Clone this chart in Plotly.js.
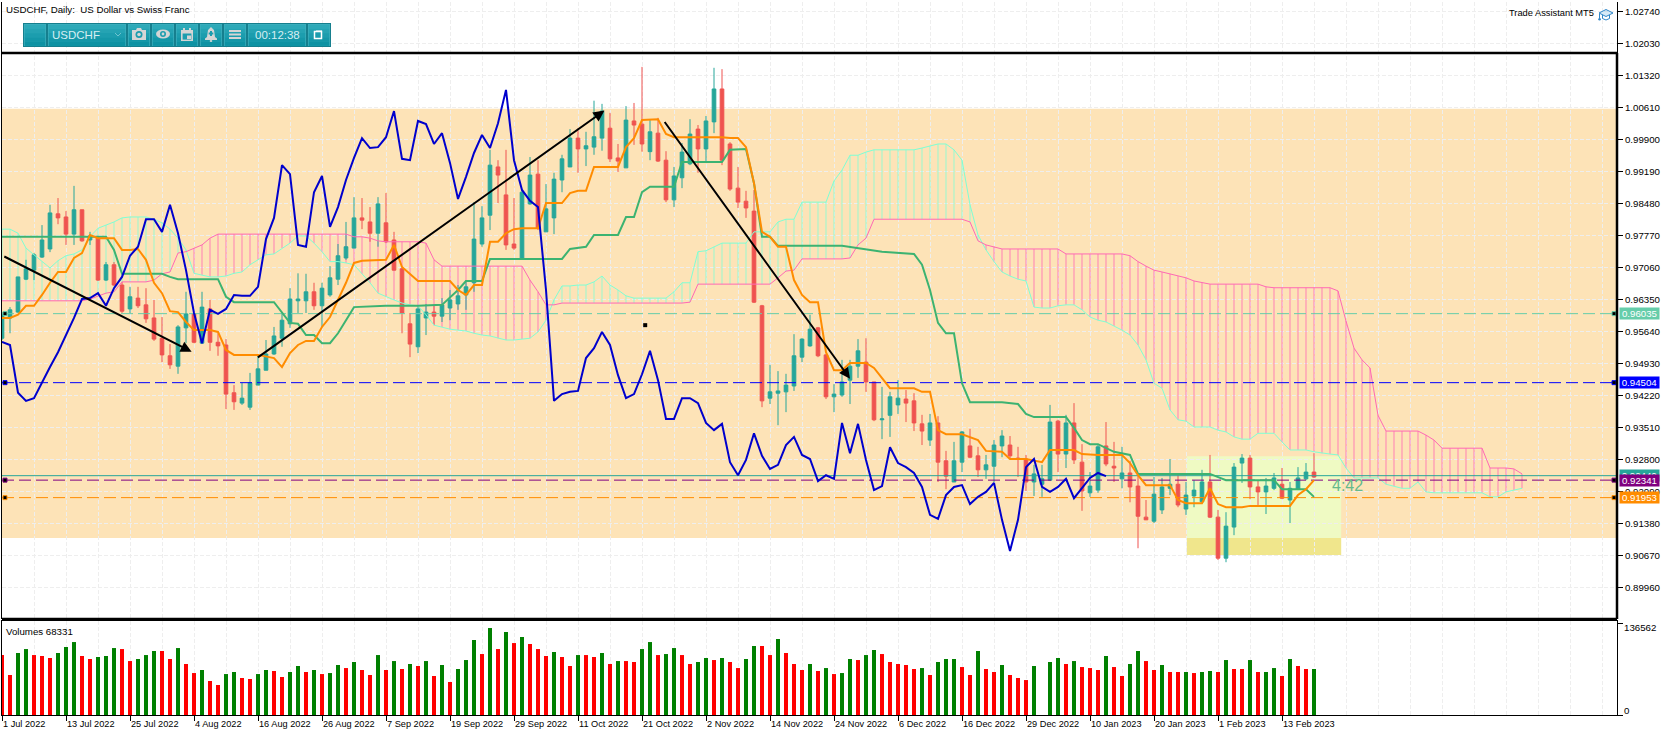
<!DOCTYPE html>
<html><head><meta charset="utf-8">
<script src="https://cdn.plot.ly/plotly-3.0.1.min.js"></script>
<style>html,body{margin:0;padding:0;background:#fff}#c{width:1670px;height:736px}</style>
</head><body><div id="c"></div>
<script>
const open=[.9549,.9594,.9607,.9680,.9700,.9729,.9747,.9825,.9818,.9780,
.9834,.9767,.9771,.9678,.9712,.9667,.9614,.9638,.9623,.9594,
.9549,.9510,.9487,.9572,.9603,.9538,.9614,.9540,.9534,.9428,
.9405,.9396,.9445,.9478,.9514,.9549,.9581,.9632,.9632,.9652,
.9621,.9645,.9680,.9727,.9749,.9816,.9807,.9782,.9805,.9767,
.9703,.9581,.9530,.9594,.9607,.9598,.9616,.9625,.9645,.9672,
.9758,.9822,.9929,.9867,.9758,.9725,.9847,.9913,.9785,.9816,
.9900,.9929,.9993,.9969,.9973,.9993,1.0015,.9949,.9927,1.0031,
1.0024,.9963,1.0004,.9944,.9856,.9905,.9936,1.0013,.9969,1.0029,
1.0102,.9980,.9882,.9853,.9831,.9621,.9416,.9427,.9430,.9443,
.9507,.9532,.9572,.9512,.9419,.9423,.9456,.9487,.9496,.9452,
.9368,.9378,.9401,.9414,.9410,.9359,.9323,.9361,.9277,.9230,
.9274,.9310,.9288,.9257,.9265,.9310,.9312,.9283,.9281,.9230,
.9225,.9234,.9365,.9292,.9361,.9274,.9206,.9212,.9310,.9265,
.9237,.9250,.9221,.9152,.9143,.9168,.9216,.9225,.9170,.9199,
.9186,.9230,.9152,.9061,.9130,.9272,.9283,.9219,.9208,.9216,
.9225,.9190,.9214,.9237,.9252];
const high=[.9605,.9618,.9685,.9723,.9738,.9800,.9845,.9860,.9831,.9887,
.9834,.9785,.9776,.9718,.9718,.9674,.9663,.9663,.9660,.9634,
.9596,.9536,.9578,.9652,.9605,.9652,.9634,.9560,.9547,.9445,
.9450,.9472,.9512,.9545,.9574,.9607,.9660,.9693,.9692,.9672,
.9672,.9709,.9758,.9807,.9862,.9860,.9840,.9862,.9871,.9785,
.9705,.9605,.9621,.9625,.9623,.9638,.9656,.9667,.9678,.9851,
.9842,.9967,.9944,.9967,.9860,.9878,.9951,.9944,.9891,.9916,
.9956,1.0013,1.0015,1.0007,1.0076,1.0069,1.0049,.9980,1.0064,1.0071,
1.0151,1.0033,1.0038,.9964,.9929,.9982,1.0035,1.0022,1.0042,1.0149,
1.0146,.9984,.9929,.9876,.9878,.9623,.9490,.9476,.9470,.9558,
.9549,.9601,.9574,.9514,.9447,.9501,.9501,.9547,.9549,.9452,
.9441,.9430,.9456,.9434,.9427,.9379,.9381,.9376,.9299,.9319,
.9343,.9348,.9308,.9290,.9323,.9345,.9332,.9308,.9290,.9268,
.9268,.9401,.9368,.9379,.9405,.9314,.9252,.9312,.9363,.9319,
.9308,.9277,.9250,.9190,.9241,.9239,.9281,.9245,.9230,.9234,
.9257,.9290,.9168,.9163,.9272,.9292,.9290,.9234,.9239,.9250,
.9261,.9230,.9263,.9272,.9294];
const low=[.9545,.9560,.9605,.9678,.9678,.9727,.9740,.9802,.9756,.9756,
.9763,.9756,.9676,.9676,.9665,.9605,.9605,.9616,.9583,.9543,
.9496,.9481,.9470,.9538,.9538,.9538,.9521,.9510,.9392,.9390,
.9401,.9390,.9445,.9478,.9512,.9530,.9572,.9605,.9605,.9612,
.9574,.9641,.9667,.9723,.9749,.9791,.9763,.9752,.9760,.9700,
.9560,.9507,.9516,.9556,.9578,.9585,.9589,.9612,.9612,.9652,
.9752,.9789,.9849,.9745,.9745,.9723,.9845,.9789,.9785,.9780,
.9873,.9929,.9916,.9931,.9956,.9965,.9940,.9918,.9927,.9978,
.9963,.9944,.9940,.9851,.9840,.9882,.9933,.9916,.9938,1.0004,
.9933,.9876,.9838,.9816,.9627,.9396,.9403,.9356,.9385,.9432,
.9496,.9530,.9507,.9414,.9385,.9419,.9403,.9461,.9430,.9365,
.9325,.9330,.9381,.9363,.9343,.9312,.9310,.9230,.9214,.9230,
.9252,.9283,.9241,.9237,.9230,.9285,.9283,.9241,.9210,.9199,
.9197,.9232,.9252,.9261,.9270,.9166,.9197,.9206,.9265,.9230,
.9216,.9185,.9083,.9146,.9139,.9159,.9201,.9174,.9157,.9174,
.9183,.9150,.9057,.9052,.9112,.9228,.9192,.9179,.9159,.9212,
.9192,.9139,.9212,.9234,.9239];
const close=[.9605,.9612,.9685,.9703,.9734,.9767,.9827,.9816,.9780,.9834,
.9765,.9776,.9678,.9712,.9667,.9609,.9641,.9621,.9592,.9547,
.9512,.9490,.9574,.9603,.9540,.9618,.9540,.9532,.9425,.9408,
.9416,.9450,.9481,.9514,.9554,.9589,.9636,.9636,.9652,.9621,
.9660,.9683,.9732,.9752,.9816,.9811,.9782,.9847,.9763,.9700,
.9605,.9536,.9614,.9607,.9598,.9623,.9634,.9643,.9663,.9769,
.9816,.9933,.9911,.9756,.9749,.9873,.9911,.9793,.9836,.9902,
.9947,.9993,.9969,.9976,.9996,1.0053,.9947,.9942,1.0033,1.0022,
.9980,1.0007,.9942,.9856,.9909,.9962,1.0002,.9969,1.0031,1.0102,
.9944,.9880,.9851,.9838,.9629,.9410,.9430,.9432,.9445,.9510,
.9547,.9569,.9510,.9419,.9425,.9452,.9487,.9521,.9452,.9368,
.9370,.9419,.9416,.9405,.9361,.9343,.9361,.9274,.9243,.9277,
.9341,.9285,.9257,.9268,.9312,.9332,.9288,.9281,.9230,.9248,
.9237,.9363,.9292,.9361,.9279,.9210,.9221,.9308,.9270,.9261,
.9250,.9219,.9154,.9146,.9203,.9219,.9225,.9179,.9201,.9212,
.9230,.9152,.9061,.9132,.9263,.9283,.9219,.9208,.9221,.9239,
.9194,.9216,.9239,.9252,.9241];
const volume=[89000,59400,92000,97900,89000,87600,84600,92000,100900,108300,87600,83100,86100,87600,99400,97900,80100,83100,89000,95000,95000,83100,99400,75700,62300,66800,50500,44500,60800,63800,54900,53400,60800,66800,65300,56400,63800,72700,63800,66800,60800,62300,74200,69700,78700,66800,59400,89000,66800,80100,68300,75700,72700,80100,57900,74200,49000,68300,81600,111300,90500,129100,97900,
123200,106800,115800,105400,97900,87600,93500,86100,72700,89000,89000,86100,92000,75700,80100,80100,78700,97900,108300,89000,90500,99400,89000,75700,78700,84600,81600,84600,78700,69700,83100,102400,102400,89000,112800,92000,75700,66800,75700,65300,69700,60800,62300,83100,81600,89000,96500,90500,78700,75700,74200,68300,69700,59400,78700,83100,83100,71200,59400,95000,68300,63800,
74200,59400,54900,51900,72700,0,78700,84600,75700,80100,71200,69700,66800,87600,71200,57900,75700,95000,80100,66800,74200,63800,63800,63800,62300,63800,65300,63800,81600,68300,68300,81600,63800,63800,69700,57900,83100,72700,68300,68331];
const volumeDir="rrggrrrgggrrgggrrgggrrgrrgrrggrrggrrggrgrggrgrrgrgrgrgrgrgggrgr"+"grgrrrgrrgrrgrgrrggrggrrggrgrrggrrgrrrgrgrggrggrrrrrgrgggrrgrr"+"grrrggggrgrrrgrrggrrgrrgrggrgrrgrggrgrrg";

const senkouA=[.9791,.9791,.9782,.9749,.9734,.9719,.9705,.9721,.9732,.9736,.9745,.9774,.9793,.9800,.9807,.9816,.9818,.9818,.9818,.9813,.9805,.9791,.9771,.9745,.9693,.9689,.9685,.9685,.9687,.9693,.9696,.9712,.9723,.9734,.9736,.9749,.9760,.9776,.9776,.9760,.9741,.9719,.9719,.9716,.9712,.9692,.9672,.9649,.9641,.9634,.9627,.9623,.9621,
.9601,.9578,.9574,.9569,.9567,.9565,.9560,.9556,.9554,.9549,.9545,.9545,.9547,.9549,.9563,.9589,.9634,.9665,.9665,.9667,.9667,.9674,.9687,.9667,.9656,.9643,.9638,.9638,.9638,.9638,.9638,.9652,.9672,.9672,.9741,.9743,.9752,.9760,.9760,.9760,.9760,.9785,.9785,.9785,.9807,.9813,.9813,.9851,.9851,.9851,.9851,.9898,.9922,.9955,.9955,.9962,.9967,.9967,.9967,.9967,.9967,.9967,.9971,.9976,.9980,.9980,.9967,.9944,.9845,.9778,.9745,.9719,.9696,.9687,.9680,.9676,.9618,.9616,.9616,.9621,.9623,.9623,.9612,.9596,.9589,.9585,.9576,.9567,.9556,.9534,.9501,.9449,.9438,.9390,.9368,.9365,.9352,.9352,.9352,.9345,.9341,.9330,.9325,.9325,.9338,.9338,.9338,.9319,.9301,.9301,.9301,.9297,.9294,.9292,.9290,.9261,.9239,.9239,.9239,.9239,.9225,.9221,.9216,.9216,.9230,.9208,.9206,.9206,.9206,.9206,.9206,.9206,.9206,.9197,.9197,.9208,.9212,.9216];
const senkouB=[.9632,.9632,.9632,.9632,.9632,.9632,.9632,.9632,.9632,.9632,.9632,.9636,.9643,.9649,.9652,.9674,.9674,.9674,.9674,.9678,.9692,.9696,.9738,.9741,.9749,.9756,.9771,
.9780,.9780,.9780,.9780,.9780,.9780,.9780,.9780,.9780,.9780,.9780,.9780,.9780,.9780,.9780,.9780,.9780,.9774,.9774,.9771,.9765,.9763,.9763,.9763,.9763,.9763,.9760,.9723,
.9709,.9709,.9709,.9709,.9709,.9709,.9709,.9709,.9709,.9709,.9709,.9678,.9652,.9623,.9623,
.9627,.9627,.9627,.9627,.9627,.9627,.9627,.9627,.9627,.9627,.9627,.9627,.9627,.9627,.9627,.9627,.9629,
.9669,.9669,.9669,.9669,.9669,.9669,.9669,.9669,.9669,.9669,.9683,.9698,.9700,.9725,.9725,.9725,.9725,.9725,.9725,.9727,.9756,.9771,
.9813,.9813,.9813,.9813,.9813,.9813,.9813,.9813,.9813,.9813,.9813,.9813,.9807,.9765,.9756,.9752,
.9747,.9747,.9747,.9747,.9747,.9747,.9747,.9747,.9736,.9736,.9736,.9736,.9736,.9736,.9736,.9736,.9732,.9719,.9709,.9700,.9696,.9692,.9687,.9683,.9676,.9672,
.9669,.9669,.9669,.9669,.9669,.9669,.9669,.9663,.9661,.9661,.9661,.9661,.9661,.9661,.9661,.9661,.9654,.9587,.9527,.9501,.9483,.9378,
.9343,.9343,.9343,.9343,.9343,.9334,.9323,.9305,.9305,.9305,.9305,.9305,.9305,.9261,.9261,.9261,.9259,.9248];

const tenkanBar=[0,1,2,3,4,5,6,7,8,9,10,11,12,14,15,16,17,18,19,20,21,22,23,24,26,27,28,29,32,34,35,36,37,38,39,40,41,42,43,44,45,48,49,50,51,52,53,56,57,58,59,60,61,62,63,64,65,67,68,70,71,72,73,74,77,78,79,80,82,83,84,90,91,92,93,94,95,96,97,98,99,100,101,102,103,104,105,106,108,109,111,114,115,116,117,118,120,121,122,123,125,126,128,130,131,134,135,137,140,141,142,143,146,147,148,150,151,152,153,155,156,161,162,163,164];
const tenkan=[.9594,.9594,.9601,.9621,.9621,.9645,.9672,.9696,.9696,.9727,.9738,.9778,.9771,.9771,.9745,.9745,.9747,.9723,.9672,.9649,.9609,.9607,.9585,.9567,.9567,.9563,.9523,.9512,.9512,.9505,.9485,.9516,.9534,.9543,.9543,.9574,.9596,.9634,.9672,.9716,.9721,.9723,.9756,.9707,.9692,.9676,.9676,.9676,.9656,.9645,.9667,.9667,.9763,.9763,.9782,.9791,.9793,.9793,.9849,.9849,.9871,.9876,.9876,.9929,.9929,.9973,.9993,1.0033,1.0035,1.0002,.9995,.9995,.9993,.9993,.9973,.9893,.9785,.9774,.9752,.9752,.9678,.9645,.9629,.9629,.9518,.9478,.9478,.9494,.9494,.9483,.9438,.9438,.9430,.9430,.9345,.9336,.9336,.9330,.9323,.9299,.9297,.9281,.9281,.9274,.9301,.9301,.9292,.9290,.9290,.9272,.9245,.9223,.9223,.9190,.9183,.9183,.9216,.9181,.9174,.9174,.9177,.9177,.9201,.9214,.9234];
const kijunBar=[0,13,14,15,20,21,22,27,28,29,34,35,36,37,38,39,40,41,42,43,44,48,52,55,57,58,60,61,70,71,73,74,77,78,79,80,81,84,85,90,91,93,94,95,96,97,105,110,114,115,116,117,118,119,120,121,125,127,128,129,133,134,135,136,137,139,141,142,151,153,159,160,163,164];
const kijun=[.9774,.9774,.9745,.9692,.9692,.9685,.9680,.9680,.9641,.9629,.9629,.9607,.9583,.9581,.9556,.9556,.9538,.9538,.9560,.9589,.9618,.9621,.9621,.9623,.9656,.9676,.9676,.9725,.9725,.9747,.9752,.9778,.9778,.9818,.9818,.9873,.9885,.9885,.9940,.9940,.9967,.9969,.9893,.9774,.9774,.9754,.9754,.9741,.9736,.9712,.9656,.9583,.9560,.9560,.9449,.9407,.9407,.9403,.9381,.9374,.9374,.9350,.9323,.9314,.9314,.9297,.9290,.9248,.9248,.9234,.9234,.9214,.9214,.9197];
const chikou=[.9541,.9534,.9428,.9410,.9416,.9452,.9485,.9518,.9556,.9594,.9636,.9638,.9649,.9621,.9660,.9685,.9732,.9752,.9813,.9813,.9785,.9845,.9782,.9700,.9605,.9538,.9612,.9603,.9614,.9645,.9643,.9643,.9663,.9769,.9816,.9933,.9913,.9756,.9752,.9873,.9909,.9796,.9840,.9900,.9949,.9993,.9971,.9973,.9995,1.0053,.9947,.9944,1.0031,1.0024,.9980,1.0004,.9938,.9858,.9907,.9960,1.0000,.9971,1.0026,1.0100,.9944,.9878,.9854,.9840,.9656,.9410,.9425,.9430,.9432,.9505,.9527,.9563,.9534,.9467,.9416,.9425,.9469,.9521,.9456,.9370,.9370,.9416,.9416,.9405,.9361,.9345,.9359,.9274,.9245,.9279,.9338,.9288,.9259,.9268,.9312,.9330,.9290,.9281,.9232,.9245,.9237,.9361,.9294,.9359,.9279,.9212,.9221,.9307,.9272,.9263,.9250,.9219,.9157,.9148,.9201,.9219,.9223,.9181,.9197,.9208,.9228,.9146,.9077,.9146,.9263,.9281,.9219,.9208,.9219,.9237,.9194,.9216,.9239,.9250,.9243];

const priceTicks=[1.02740,1.02030,1.01320,1.00610,.99900,.99190,.98480,.97770,.97060,.96350,.95640,.94930,.94220,.93510,.92800,.92090,.91380,.90670,.89960];
const dateLabels=["1 Jul 2022","13 Jul 2022","25 Jul 2022","4 Aug 2022","16 Aug 2022","26 Aug 2022","7 Sep 2022","19 Sep 2022","29 Sep 2022","11 Oct 2022","21 Oct 2022","2 Nov 2022","14 Nov 2022","24 Nov 2022","6 Dec 2022","16 Dec 2022","29 Dec 2022","10 Jan 2023","20 Jan 2023","1 Feb 2023","13 Feb 2023"];
const dateTickBars=dateLabels.map((_,k)=>k*8);
const levels=[.96035,.94504,.92341,.91953];
const levelColors=["#66CDAA","#0000FF","#800080","#FF8C00"];
const askLevel=.92440;
const volTop=136562;

const W=1670,H=736,FONT='"Liberation Sans",Arial,sans-serif';
const px=x=>x/W, py=y=>1-y/H;
const bars=open.map((_,i)=>i), cloudBars=senkouA.map((_,i)=>i);
const up="#26A69A",dn="#EF5350",mint="#7FFFD4",pink="#FF69B4";
const gridC="#EEEEEE",gridD="4px,2px";
const xr=[0,(1617-2)/8];

const traces=[];
["m","p"].forEach(kind=>{
  const idx=cloudBars.filter(i=>(senkouA[i]>=senkouB[i])===(kind==="m"));
  traces.push({type:"bar",x:idx,base:idx.map(i=>Math.min(senkouA[i],senkouB[i])),y:idx.map(i=>Math.abs(senkouA[i]-senkouB[i])),
    width:.1,marker:{color:kind==="m"?mint:pink,line:{width:0}},xaxis:"x",yaxis:"y",hoverinfo:"skip"});
});
traces.push({type:"candlestick",x:bars,open,high,low,close,xaxis:"x",yaxis:"y",whiskerwidth:0,
  increasing:{line:{color:up,width:1},fillcolor:up},decreasing:{line:{color:dn,width:1},fillcolor:dn},hoverinfo:"skip"});
traces.push({type:"scatter",mode:"lines",x:cloudBars,y:senkouA,line:{color:mint,width:1},xaxis:"x",yaxis:"y",hoverinfo:"skip"});
traces.push({type:"scatter",mode:"lines",x:cloudBars,y:senkouB,line:{color:pink,width:1},xaxis:"x",yaxis:"y",hoverinfo:"skip"});
levels.forEach((lv,k)=>traces.push({type:"scatter",mode:"lines",x:xr,y:[lv,lv],line:{color:levelColors[k],width:1,dash:"12px,5px"},xaxis:"x",yaxis:"y",hoverinfo:"skip"}));
traces.push({type:"scatter",mode:"lines",x:xr,y:[askLevel,askLevel],line:{color:up,width:1},xaxis:"x",yaxis:"y",hoverinfo:"skip"});
traces.push({type:"scatter",mode:"lines",x:kijunBar,y:kijun,line:{color:"#3CB371",width:2},xaxis:"x",yaxis:"y",hoverinfo:"skip"});
traces.push({type:"scatter",mode:"lines",x:tenkanBar,y:tenkan,line:{color:"#FF8C00",width:2},xaxis:"x",yaxis:"y",hoverinfo:"skip"});
traces.push({type:"scatter",mode:"lines",x:chikou.map((_,i)=>i),y:chikou,line:{color:"#0000CD",width:2},xaxis:"x",yaxis:"y",hoverinfo:"skip"});
levels.forEach((lv,k)=>traces.push({type:"scatter",mode:"markers",x:[.375,201.5],y:[lv,lv],marker:{symbol:"square",size:4,color:"#000",line:{color:levelColors[k],width:1}},xaxis:"x",yaxis:"y",hoverinfo:"skip"}));
traces.push({type:"scatter",mode:"markers",x:[80.4],y:[.9578],marker:{symbol:"square",size:4,color:"#000"},xaxis:"x",yaxis:"y",hoverinfo:"skip"});
traces.push({type:"bar",x:bars,y:volume,width:.5,marker:{color:volumeDir.split("").map(c=>c==="g"?"#008000":"#FF0000"),line:{width:0}},xaxis:"x2",yaxis:"y2",hoverinfo:"skip"});

const shapes=[];
const hrect=(p0,p1,i0,i1,c)=>shapes.push({type:"rect",xref:"x",x0:i0,x1:i1,yref:"y",y0:p0,y1:p1,fillcolor:c,line:{width:0},layer:"below"});
hrect(.9106,1.0058,xr[0],xr[1],"#FDE3B7");
hrect(.9106,.9287,148.1,167.4,"#EFFAC3");
hrect(.9068,.9106,148.1,167.4,"#F0E68C");

const pl=(x0,y0,x1,y1,c,w)=>shapes.push({type:"line",xref:"paper",yref:"paper",x0:px(x0),x1:px(x1),y0:py(y0),y1:py(y1),line:{color:c,width:w},layer:"above"});
const pr=(x0,y0,x1,y1,f,lc,lw)=>shapes.push({type:"rect",xref:"paper",yref:"paper",x0:px(x0),x1:px(x1),y0:py(y0),y1:py(y1),fillcolor:f,line:{color:lc||f,width:lw===undefined?0:lw},layer:"above"});
const pc=(x0,y0,x1,y1,f,lc,lw)=>shapes.push({type:"circle",xref:"paper",yref:"paper",x0:px(x0),x1:px(x1),y0:py(y0),y1:py(y1),fillcolor:f,line:{color:lc||f,width:lw||0},layer:"above"});
const pp=(pts,f,lc,lw)=>shapes.push({type:"path",xref:"paper",yref:"paper",path:"M"+pts.map(p=>px(p[0])+","+py(p[1])).join("L")+(f?"Z":""),fillcolor:f||"rgba(0,0,0,0)",line:{color:lc||f,width:lw||0},layer:"above"});

pl(2,53,1617,53,"#000",2.5);
pl(1617,53,1617,619,"#000",2.5);
pl(2,619,1617,619,"#000",2.5);

pr(23,23,331,47,"#167F8E");
const btns=[[24,46],[48,126],[128,150],[152,174],[176,198],[200,222],[224,246],[248,306],[308,330]];
const strip=["#2DA9B8","#25A3B3","#1C9DAE","#1497A8","#0E92A3"];
btns.forEach(b=>{
  pr(b[0],24,b[1],46,"#3FB0BE");
  strip.forEach((c,k)=>pr(b[0]+.7,24.7+k*4.2,b[1]-.7,24.7+(k+1)*4.2+.2,c));
});
const ic="#D5D5D5";
pp([[132,30],[136,30],[137,28],[141,28],[142,30],[146,30],[146,40],[132,40]],ic);
pc(135.5,31,142.5,38,"#1C9DAE");pc(137.2,32.7,140.8,36.3,ic);
pc(156,29.5,170,38.5,ic);pc(160,31,166,37,"#1C9DAE");pc(161.6,32.6,164.4,35.4,ic);
pr(181,30,193,41,ic);pr(182.6,33.5,191.4,39.6,"#1C9DAE");pr(187,35.5,191,39,ic);pr(183,28,185,31,ic);pr(189,28,191,31,ic);
pp([[211,27],[214,30],[215,37],[217,38.5],[217,40],[205,40],[205,38.5],[207,37],[208,30]],ic);pc(209.7,40,212.3,42,ic);pr(210,31,212,36,"#1C9DAE");pr(208.7,32.5,213.3,34.5,"#1C9DAE");
pr(229,30,241,32,ic);pr(229,33.5,241,35.5,ic);pr(229,37,241,39,ic);
pr(314.5,31.5,321.5,38.5,"rgba(0,0,0,0)","#fff",1.5);pr(316,30.5,322,32,"#fff");
pp([[115,33],[118,36],[121,33]],null,"#6FC4CF",1);
pp([[1599,13],[1606,9.5],[1613,13],[1606,16.5]],"rgba(90,170,225,.25)","#2F86C8",1);
pp([[1602.5,15],[1602.5,18.5],[1606,20],[1609.5,18.5],[1609.5,15]],null,"#2F86C8",1);
pp([[1599.5,13.5],[1599.5,18.5]],null,"#2F86C8",1);
pc(1598.3,18,1600.8,20.5,"#2F86C8");

const note=(x,y,t,o)=>Object.assign({xref:"paper",yref:"paper",x:px(x),y:py(y),text:t,showarrow:false,xanchor:"left",yanchor:"middle",font:{family:FONT,size:9.7,color:"#000"},borderpad:0},o||{});
const ann=[];
ann.push(note(5,9.5,"USDCHF, Daily:  US Dollar vs Swiss Franc"));
ann.push(note(1507.5,13.5,"Trade Assistant MT5",{font:{family:FONT,size:9.3,color:"#000"}}));
ann.push(note(5,631,"Volumes 68331"));
ann.push(note(51,35,"USDCHF",{font:{family:FONT,size:11.5,color:"#D6EEF2"}}));
ann.push(note(277,35,"00:12:38",{xanchor:"center",font:{family:FONT,size:11.5,color:"#D6EEF2"}}));
ann.push({xref:"x",yref:"y",x:166,y:.9223,text:"4:42",showarrow:false,xanchor:"left",yanchor:"middle",font:{family:FONT,size:16,color:"#66B98C"}});
const lab=(v,c)=>ann.push({xref:"paper",yref:"y",x:px(1639.5),y:v,text:v.toFixed(5),showarrow:false,xanchor:"center",yanchor:"middle",bgcolor:c,width:39,height:11,borderpad:0,align:"center",font:{family:FONT,size:9.7,color:"#fff"}});
lab(askLevel,up);lab(levels[0],levelColors[0]);lab(levels[1],levelColors[1]);lab(levels[2],levelColors[2]);lab(levels[3],levelColors[3]);
ann.push(note(1623,627,"136562"));
ann.push(note(1623,710,"0"));
const arr=(x0,y0,x1,y1)=>ann.push({xref:"x",yref:"y",axref:"x",ayref:"y",x:x1,y:y1,ax:x0,ay:y0,text:"",showarrow:true,arrowhead:2,arrowsize:1.1,arrowwidth:2,arrowcolor:"#000"});
arr(.1,.9732,23.7,.9519);
arr(31.8,.9504,75.3,1.0054);
arr(82.7,1.0032,106,.9459);

const tf={family:FONT,size:9.7,color:"#000"};
const layout={width:W,height:H,margin:{l:0,r:0,t:0,b:0},paper_bgcolor:"#fff",plot_bgcolor:"#fff",showlegend:false,barmode:"overlay",boxgap:.35,dragmode:false,hovermode:false,
 xaxis:{domain:[px(2),px(1617)],range:xr,anchor:"y",tickmode:"linear",tick0:0,dtick:4,showticklabels:false,ticks:"",showgrid:true,gridcolor:gridC,griddash:gridD,gridwidth:1,zeroline:false,rangeslider:{visible:false},showline:false},
 yaxis:{domain:[py(619),py(2)],range:[.8926,1.0295],anchor:"x",side:"right",tickmode:"array",tickvals:priceTicks,ticktext:priceTicks.map(v=>v.toFixed(5)),ticks:"outside",ticklen:5,tickcolor:"#000",tickfont:tf,showgrid:true,gridcolor:gridC,griddash:gridD,gridwidth:1,zeroline:false,showline:true,linecolor:"#000",linewidth:1,mirror:true},
 xaxis2:{domain:[px(2),px(1617)],range:xr,anchor:"y2",tickmode:"array",tickvals:dateTickBars,ticktext:dateLabels,tickangle:0,ticks:"outside",ticklen:5,tickcolor:"#000",tickfont:{family:FONT,size:9.2,color:"#000"},ticklabelposition:"outside right",showgrid:true,gridcolor:gridC,griddash:gridD,gridwidth:1,minor:{tickmode:"linear",tick0:0,dtick:4,showgrid:true,gridcolor:gridC,griddash:gridD,gridwidth:1,ticks:""},zeroline:false,showline:true,linecolor:"#000",linewidth:1,mirror:true},
 yaxis2:{domain:[py(715),py(621)],range:[0,139530],anchor:"x2",side:"right",tickmode:"array",tickvals:[0,volTop],showticklabels:false,ticks:"outside",ticklen:5,tickcolor:"#000",showgrid:false,zeroline:false,showline:true,linecolor:"#000",linewidth:1,mirror:true},
 shapes,annotations:ann};
Plotly.newPlot("c",traces,layout,{displayModeBar:false,staticPlot:true});
</script></body></html>
